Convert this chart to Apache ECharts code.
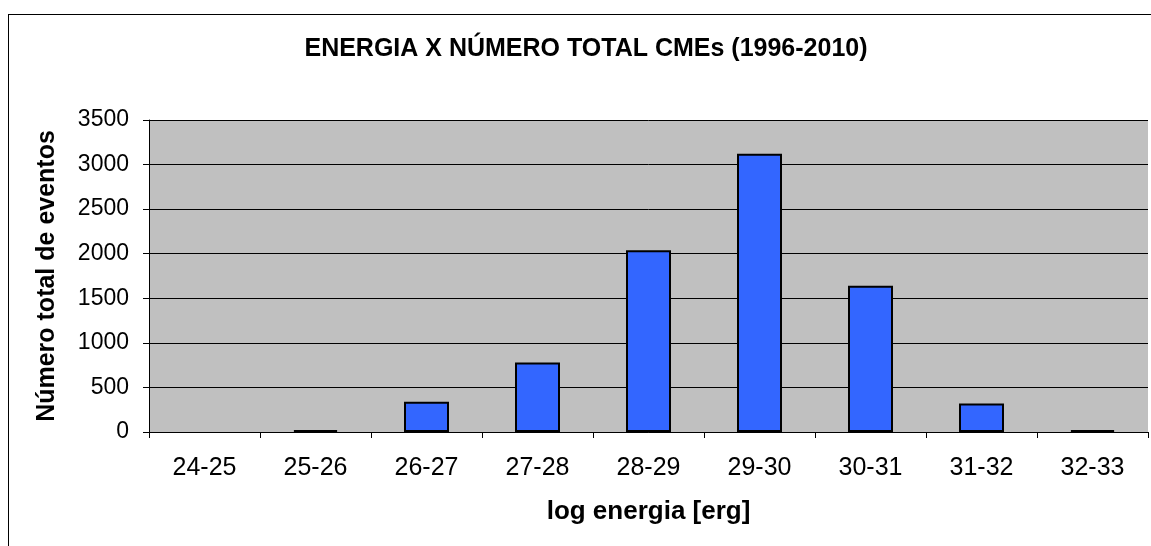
<!DOCTYPE html>
<html>
<head>
<meta charset="utf-8">
<script src="https://cdn.jsdelivr.net/npm/echarts@6/dist/echarts.min.js"></script>
<style>
  html, body { margin: 0; padding: 0; background: #fff; }
  #frame { position: absolute; left: 8px; top: 14px; width: 1160px; height: 560px; border-left: 1px solid #000; border-top: 1px solid #000; }
  #main { position: absolute; left: 0; top: 0; width: 1151px; height: 546px; }
</style>
</head>
<body>
<div id="frame"></div>
<div id="main"></div>
<script>
// faixas de energia e numero de eventos
var categorias = ['24-25', '25-26', '26-27', '27-28', '28-29', '29-30', '30-31', '31-32', '32-33']
var eventos = [0, 20, 340, 780, 2040, 3120, 1640, 320, 20]
var yTicks = [0, 500, 1000, 1500, 2000, 2500, 3000, 3500]

var dom = document.getElementById('main')
var myChart = echarts.init(dom)
var fonte = '"Liberation Sans", Arial, sans-serif'

// barra zero sem borda
var barras = eventos.map(function (v) {
    if (v === 0) return { value: v, itemStyle: { borderWidth: 0 } }
    return v
})

var option = {
    animation: false,
    title: {
        text: 'ENERGIA X NÚMERO TOTAL CMEs (1996-2010)',
        left: 586,
        textAlign: 'center',
        top: 37,
        padding: 0,
        textStyle: { fontFamily: fonte, fontSize: 25, fontWeight: 'bold', color: '#000' }
    },
    grid: {
        left: 149,
        right: 3,
        top: 120,
        bottom: 114,
        show: true,
        backgroundColor: '#c0c0c0',
        borderWidth: 0
    },
    xAxis: {
        type: 'category',
        data: categorias,
        name: 'log energia [erg]',
        nameLocation: 'middle',
        nameGap: 67,
        nameTextStyle: { fontFamily: fonte, fontSize: 26, fontWeight: 'bold', color: '#000' },
        axisLine: { lineStyle: { color: '#000', width: 1 } },
        axisTick: { show: true, length: 6, lineStyle: { color: '#000' } },
        axisLabel: { fontFamily: fonte, fontSize: 25, color: '#000', margin: 24 }
    },
    yAxis: {
        type: 'value',
        min: yTicks[0],
        max: yTicks[yTicks.length - 1],
        interval: 500,
        name: 'Número total de eventos',
        nameLocation: 'middle',
        nameRotate: 90,
        nameGap: 89,
        nameTextStyle: { fontFamily: fonte, fontSize: 25, fontWeight: 'bold', color: '#000' },
        axisLine: { show: true, lineStyle: { color: '#000', width: 1 } },
        axisTick: { show: true, length: 6, lineStyle: { color: '#000' } },
        axisLabel: {
            fontFamily: fonte, fontSize: 23, color: '#000', margin: 20,
            formatter: function (v) { return String(v) }
        },
        splitLine: { show: true, lineStyle: { color: '#000', width: 1 } }
    },
    series: [
        {
            type: 'bar',
            data: barras,
            barWidth: 45,
            itemStyle: { color: '#3366ff', borderColor: '#000', borderWidth: 2 }
        }
    ]
}
myChart.setOption(option)
</script>
</body>
</html>
